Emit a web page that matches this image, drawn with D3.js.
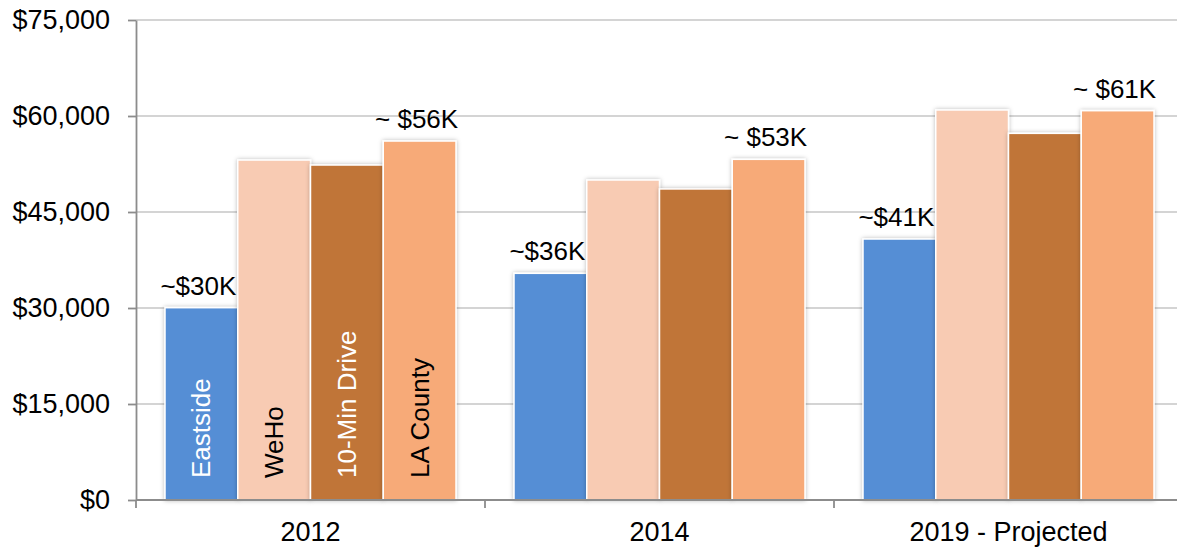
<!DOCTYPE html>
<html>
  <head>
    <meta charset="utf-8">
    <title>Median household income</title>
    <script src="https://d3js.org/d3.v7.min.js"></script>
    <style>
      body { margin: 0; background: #fff; }
      svg { display: block; font-family: "Liberation Sans", Arial, sans-serif; }
      .grid line { stroke: #c6c6c6; stroke-width: 1.3; }
      .axis path, .axis line { stroke: #8c8c8c; stroke-width: 1.8; }
      .axis text { fill: #000; }
    </style>
  </head>
  <body>
    <svg id="chart" width="1177" height="549"></svg>
    <script>
      // data
      years = ["2012", "2014", "2019 - Projected"];
      series = ["Eastside", "WeHo", "10-Min Drive", "LA County"];
      colours = ["#558ed5", "#f8cbb3", "#c07437", "#f7aa78"];
      seriesTextColour = ["#fff", "#000", "#fff", "#000"];
      eastside = [30050, 35420, 40780];
      weho = [53120, 50000, 60940];
      tenMin = [52340, 48600, 57290];
      laCounty = [56090, 53230, 60830];
      yTicks = [0, 15000, 30000, 45000, 60000, 75000];
      // value labels above bars: [year index, series index, text]
      topLabels = [
        [0, 0, "~$30K"], [0, 3, "~ $56K"],
        [1, 0, "~$36K"], [1, 3, "~ $53K"],
        [2, 0, "~$41K"], [2, 3, "~ $61K"]
      ];

      values = [eastside, weho, tenMin, laCounty];
      rows = years.map(function(y, i) {
        return { year: y, vals: series.map(function(s, j) { return { s: j, v: values[j][i] }; }) };
      });

      svg = d3.select("#chart");
      margin = { top: 20, left: 136, bottom: 49 };
      width = 1177;
      height = 549;
      plotRight = margin.left + 349 * 3;

      x = d3.scaleBand().domain(years).range([margin.left, plotRight]);
      xInner = d3.scaleBand().domain(d3.range(series.length)).range([29, x.bandwidth() - 29]);
      y = d3.scaleLinear().domain([0, 75000]).range([height - margin.bottom, margin.top]);

      defs = svg.append("defs");
      shadow = defs.append("filter").attr("id", "shadow")
        .attr("x", "-20%").attr("y", "-10%").attr("width", "140%").attr("height", "120%");
      shadow.append("feDropShadow")
        .attr("dx", 0).attr("dy", 0).attr("stdDeviation", 2.2)
        .attr("flood-color", "#000").attr("flood-opacity", 0.28);

      // gridlines
      svg.append("g").attr("class", "grid")
        .selectAll("line")
          .data(yTicks.filter(function(d) { return d > 0; }))
        .enter().append("line")
          .attr("x1", margin.left).attr("x2", width)
          .attr("y1", function(d) { return y(d); })
          .attr("y2", function(d) { return y(d); });

      // bars
      groups = svg.append("g")
        .selectAll(".year")
          .data(rows)
        .enter().append("g")
          .attr("class", "year")
          .attr("transform", function(d) { return "translate(" + x(d.year) + ",0)"; });
      groups.selectAll("rect")
          .data(function(d) { return d.vals; })
        .enter().append("rect")
          .attr("x", function(d) { return xInner(d.s); })
          .attr("width", xInner.bandwidth())
          .attr("y", function(d) { return y(d.v); })
          .attr("height", function(d) { return y(0) - y(d.v); })
          .attr("fill", function(d) { return colours[d.s]; })
          .attr("stroke", "#fff")
          .attr("stroke-width", 1.5)
          .attr("filter", "url(#shadow)");

      // series names inside 2012 bars
      groups.filter(function(d, i) { return i === 0; })
        .selectAll(".name")
          .data(function(d) { return d.vals; })
        .enter().append("text")
          .attr("class", "name")
          .attr("transform", function(d) {
            return "translate(" + (xInner(d.s) + xInner.bandwidth() / 2) + "," + (y(0) - 22) + ") rotate(-90)";
          })
          .attr("dy", "0.35em")
          .attr("font-size", 26)
          .attr("fill", function(d) { return seriesTextColour[d.s]; })
          .text(function(d) { return series[d.s]; });

      // value labels
      svg.append("g")
        .selectAll("text")
          .data(topLabels)
        .enter().append("text")
          .attr("x", function(d) { return x(years[d[0]]) + xInner(d[1]) + xInner.bandwidth() / 2 - 3; })
          .attr("y", function(d) { return y(values[d[1]][d[0]]) - 13; })
          .attr("text-anchor", "middle")
          .attr("font-size", 26)
          .text(function(d) { return d[2]; });

      // axes
      yAxis = d3.axisLeft(y)
        .tickValues(yTicks)
        .tickFormat(function(d) { return "$" + d3.format(",")(d); })
        .tickSizeInner(8).tickSizeOuter(0).tickPadding(18);
      svg.append("g").attr("class", "axis")
        .attr("transform", "translate(" + margin.left + ",0)")
        .call(yAxis)
        .selectAll("text").attr("font-size", 27);

      xAxis = d3.axisBottom(x).tickSize(0).tickPadding(22);
      xg = svg.append("g").attr("class", "axis")
        .attr("transform", "translate(0," + y(0) + ")")
        .call(xAxis);
      xg.select(".domain").attr("d", "M" + margin.left + ",0H" + width);
      xg.selectAll("text").attr("font-size", 27);
      xg.selectAll(".sep")
          .data(years)
        .enter().append("line")
          .attr("class", "sep")
          .attr("x1", function(d) { return x(d); })
          .attr("x2", function(d) { return x(d); })
          .attr("y1", 0).attr("y2", 8);
    </script>
  </body>
</html>
